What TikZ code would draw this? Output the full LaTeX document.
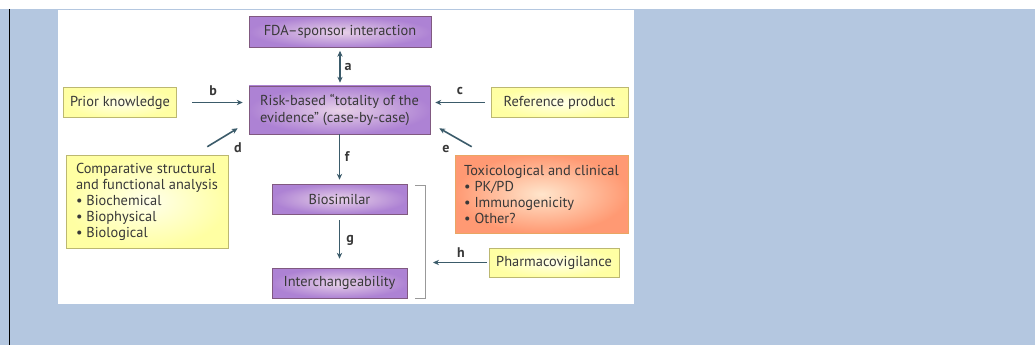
\documentclass[tikz,border=0pt]{standalone}
\usepackage{fontspec}
\setmainfont{PT Sans}
\usetikzlibrary{arrows.meta}
\definecolor{bgblue}{HTML}{B4C7E0}
\definecolor{arrowc}{HTML}{3B5B6A}
\definecolor{txtc}{HTML}{383838}
\begin{document}
\begin{tikzpicture}
[x=0.75pt, y=-0.75pt, font=\fontsize{10.8}{12}\selectfont, text=txtc,
purple/.style={rectangle, draw=gray!70!violet, inner color=violet!18!white, outer color=violet!40!white!85!blue, inner sep=0pt},
yellow/.style={rectangle, draw=yellow!40!gray, inner color=yellow!8!white, outer color=yellow!36!white, inner sep=0pt},
salmon/.style={rectangle, draw=orange!50!brown!70, inner color=orange!20!white, outer color=red!45!orange!55!white, inner sep=0pt},
arr/.style={-{Stealth[length=4.5pt, width=4pt]}, draw=arrowc, line width=1.2pt},
lbl/.style={font=\fontsize{10.5}{11}\selectfont\bfseries, text=txtc}]

% frame
\fill[white] (0,0) rectangle (1035,345);
\fill[bgblue] (0,9) rectangle (1035,345);
\fill[white] (58,10) rectangle (634,304);
\draw[black, line width=1pt] (9.5,9) -- (9.5,345);

% boxes
\node[purple, minimum width=136.5pt, minimum height=23.25pt] (fda) at (340,32) {FDA--sponsor interaction};
\node[purple, minimum width=135.75pt, minimum height=36pt, align=left, font=\fontsize{10.8}{13.2}\selectfont] (risk) at (339.5,110) {Risk-based ``totality of the\\evidence'' (case-by-case)};
\node[yellow, minimum width=84.75pt, minimum height=22.5pt] (prior) at (120,102.5) {Prior knowledge};
\node[yellow, minimum width=102.75pt, minimum height=22.5pt] (refprod) at (559.5,102.5) {Reference product};
\node[yellow, minimum width=121.5pt, minimum height=69.75pt, align=left] (comp) at (147,201.5)
  {Comparative structural\\and functional analysis\\\textbullet\ Biochemical\\\textbullet\ Biophysical\\\textbullet\ Biological};
\node[salmon, minimum width=129.75pt, minimum height=58.5pt, align=left] (tox) at (541.5,194)
  {Toxicological and clinical\\\textbullet\ PK/PD\\\textbullet\ Immunogenicity\\\textbullet\ Other?};
\node[purple, minimum width=101.25pt, minimum height=22.5pt] (bio) at (339.5,199) {Biosimilar};
\node[purple, minimum width=101.25pt, minimum height=22.5pt] (inter) at (339.5,283) {Interchangeability};
\node[yellow, minimum width=97.5pt, minimum height=21.75pt] (pharma) at (554,262.5) {Pharmacovigilance};

% bracket
\coordinate (brtop) at (425,185);
\coordinate (brbot) at (425,298);
\coordinate (brk) at (425,262.5);
\draw[gray!80, line width=0.6pt] ([xshift=-7.5pt]brtop) -- (brtop) -- (brbot) -- ([xshift=-7.5pt]brbot);

% connectors
\draw[arr, {Stealth[length=4.5pt, width=4pt]}-{Stealth[length=4.5pt, width=4pt]}, shorten <=2.25pt, shorten >=2.25pt] (fda.south) -- (fda.south |- risk.north);
\draw[arr, shorten <=11.6pt, shorten >=4.5pt] (prior.east) -- (risk.west |- prior.east);
\draw[arr, shorten <=4.5pt, shorten >=3.75pt] (refprod.west) -- (risk.east |- refprod.west);
\draw[arr] ([shift={(-21,-8)}]comp.north east) -- ([shift={(-11,-6)}]risk.south west);
\draw[arr] ([shift={(17,-8)}]tox.north west) -- ([shift={(9,-6)}]risk.south east);
\draw[arr, shorten >=3pt] (risk.south) -- (bio.north);
\draw[arr, shorten <=4.5pt, shorten >=6.75pt] (bio.south) -- (inter.north);
\draw[arr, shorten <=1.5pt, shorten >=6pt] (pharma.west) -- (brk);

% labels
\node[lbl] (la) at (348,67) {a};
\node[lbl] (lb) at (213,91) {b};
\node[lbl] (lc) at (460,91) {c};
\node[lbl] (ld) at (238,148) {d};
\node[lbl] (le) at (446,149) {e};
\node[lbl] (lf) at (347,157) {f};
\node[lbl] (lg) at (350,240) {g};
\node[lbl] (lh) at (461,253) {h};
\end{tikzpicture}
\end{document}
